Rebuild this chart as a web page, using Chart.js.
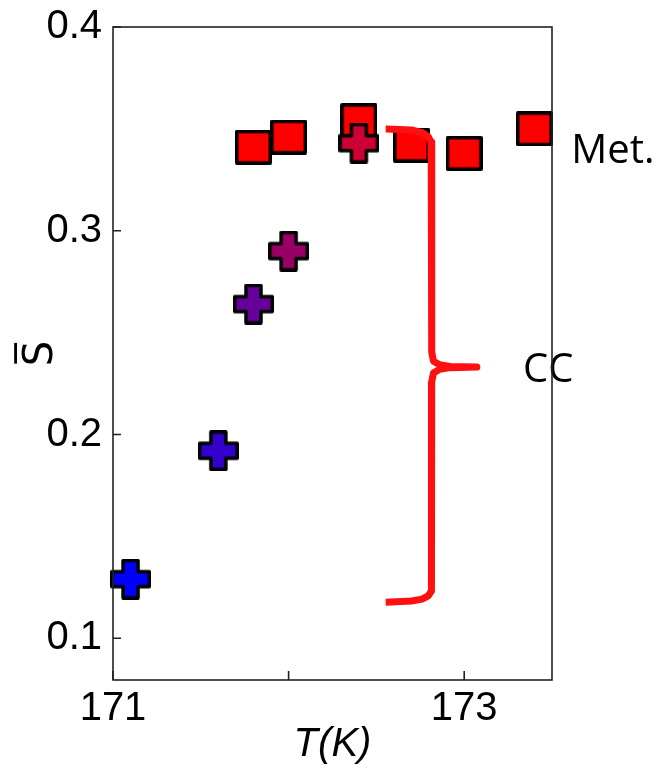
<!DOCTYPE html>
<html>
<head>
<meta charset="utf-8">
<script src="https://cdn.jsdelivr.net/npm/chart.js@4/dist/chart.umd.min.js"></script>
<style>
  html, body { margin: 0; padding: 0; background: #fff; }
  #wrap { width: 665px; height: 769px; }
</style>
</head>
<body>
<div id="wrap"><canvas id="myChart" width="665" height="769"></canvas></div>
<script>
// metallic phase (red squares)
var metT = [171.8, 172.0, 172.4, 172.7, 173.0, 173.4];
var metS = [0.341, 0.346, 0.354, 0.342, 0.338, 0.350];

// charge-crossover points (crosses, blue -> red)
var ccT = [171.1, 171.6, 171.8, 172.0, 172.4];
var ccS = [0.129, 0.192, 0.264, 0.290, 0.343];
var ccColors = ["#0000ff", "#3300cc", "#660099", "#990066", "#cc0033"];

// curly brace "CC"
var braceT = [172.553, 172.700, 172.760, 172.795, 172.812, 172.815, 172.815, 172.825, 172.860, 172.920, 173.072,
              172.920, 172.860, 172.825, 172.815, 172.815, 172.812, 172.795, 172.760, 172.700, 172.553];
var braceS = [0.3499, 0.3495, 0.3482, 0.3462, 0.3435, 0.3400, 0.2405, 0.2360, 0.2342, 0.2334, 0.2331,
              0.2328, 0.2320, 0.2302, 0.2257, 0.1265, 0.1232, 0.1208, 0.1192, 0.1183, 0.1177];

var xTicks = [171, 172, 173];
var xTickLabels = ["171", "", "173"];
var yTicks = [0.1, 0.2, 0.3, 0.4];
var yTickLabels = ["0.1", "0.2", "0.3", "0.4"];

function toXY(xs, ys) {
  var out = [];
  for (var i = 0; i < xs.length; i++) out.push({ x: xs[i], y: ys[i] });
  return out;
}

function makePlus(color) {
  var s = 41, a = 15, lw = 3.5;
  var c = document.createElement("canvas");
  c.width = s; c.height = s;
  var g = c.getContext("2d");
  var m = lw / 2, lo = (s - a) / 2, hi = (s + a) / 2;
  g.beginPath();
  g.moveTo(lo, m); g.lineTo(hi, m); g.lineTo(hi, lo); g.lineTo(s - m, lo);
  g.lineTo(s - m, hi); g.lineTo(hi, hi); g.lineTo(hi, s - m); g.lineTo(lo, s - m);
  g.lineTo(lo, hi); g.lineTo(m, hi); g.lineTo(m, lo); g.lineTo(lo, lo);
  g.closePath();
  g.fillStyle = color; g.fill();
  g.lineWidth = lw; g.lineJoin = "round"; g.strokeStyle = "#000"; g.stroke();
  return c;
}

function makeSquare(color) {
  var w = 37, h = 35, lw = 3.5;
  var c = document.createElement("canvas");
  c.width = w; c.height = h;
  var g = c.getContext("2d");
  g.fillStyle = color;
  g.fillRect(lw / 2, lw / 2, w - lw, h - lw);
  g.lineWidth = lw; g.lineJoin = "round"; g.strokeStyle = "#000";
  g.strokeRect(lw / 2, lw / 2, w - lw, h - lw);
  return c;
}

var squareImg = makeSquare("#ff0000");
var plusImgs = ccColors.map(makePlus);

// frame + inward ticks + text labels
var framePlugin = {
  id: "frame",
  beforeDatasetsDraw: function (chart) {
    var ctx = chart.ctx;
    var xs = chart.scales.x, ys = chart.scales.y;
    ctx.save();
    ctx.fillStyle = "#000";
    ctx.font = "40px 'Open Sans'";
    ctx.textAlign = "left";
    ctx.textBaseline = "alphabetic";
    ctx.fillText("Met.", xs.getPixelForValue(173.61), ys.getPixelForValue(0.3332));
    ctx.fillText("CC", xs.getPixelForValue(173.335), ys.getPixelForValue(0.2257));
    ctx.restore();
  },
  afterDatasetsDraw: function (chart) {
    var ctx = chart.ctx;
    var a = chart.chartArea;
    var xs = chart.scales.x, ys = chart.scales.y;
    ctx.save();
    ctx.strokeStyle = "#222";
    ctx.lineWidth = 1.6;
    ctx.strokeRect(a.left, a.top, a.right - a.left, a.bottom - a.top);
    ctx.beginPath();
    for (var i = 0; i < xTicks.length; i++) {
      var px = xs.getPixelForValue(xTicks[i]);
      ctx.moveTo(px, a.bottom);
      ctx.lineTo(px, a.bottom - 9);
    }
    for (var j = 0; j < yTicks.length; j++) {
      var py = ys.getPixelForValue(yTicks[j]);
      ctx.moveTo(a.left, py);
      ctx.lineTo(a.left + 8, py);
    }
    ctx.stroke();
    ctx.restore();
  }
};

var ctx = document.getElementById("myChart").getContext("2d");
var myChart = new Chart(ctx, {
  type: "scatter",
  data: {
    datasets: [
      {
        label: "brace",
        data: toXY(braceT, braceS),
        showLine: true,
        borderColor: "#ff1010",
        borderWidth: 7,
        tension: 0,
        borderJoinStyle: "round",
        pointRadius: 0,
        clip: false,
      },
      {
        label: "CC",
        data: toXY(ccT, ccS),
        pointStyle: plusImgs,
        clip: false,
      },
      {
        label: "Met.",
        data: toXY(metT, metS),
        pointStyle: squareImg,
        clip: false,
      },
    ],
  },
  options: {
    responsive: false,
    animation: false,
    events: [],
    layout: { padding: { left: 0, top: 27, right: 113, bottom: 0 } },
    plugins: { legend: { display: false }, tooltip: { enabled: false } },
    scales: {
      x: {
        type: "linear",
        min: 171,
        max: 173.5,
        afterBuildTicks: function (axis) {
          axis.ticks = xTicks.map(function (v) { return { value: v }; });
        },
        afterFit: function (axis) {
          axis.height = 89;
          axis.paddingLeft = 0;
          axis.paddingRight = 0;
        },
        ticks: {
          autoSkip: false,
          maxRotation: 0,
          padding: 9,
          color: "#000",
          font: { family: "'Liberation Sans', Arial, sans-serif", size: 40, lineHeight: 1 },
          callback: function (value) {
            var k = xTicks.indexOf(value);
            return k >= 0 ? xTickLabels[k] : "";
          },
        },
        grid: { display: false, drawTicks: false },
        border: { display: false },
        title: {
          display: true,
          text: "T(K)",
          color: "#000",
          padding: { top: 0, bottom: 4 },
          font: { family: "'Liberation Sans', Arial, sans-serif", size: 40, style: "italic", lineHeight: 1 },
        },
      },
      y: {
        type: "linear",
        min: 0.0795,
        max: 0.4,
        afterBuildTicks: function (axis) {
          axis.ticks = yTicks.map(function (v) { return { value: v }; });
        },
        afterFit: function (axis) {
          axis.width = 113;
          axis.paddingTop = 0;
          axis.paddingBottom = 0;
        },
        ticks: {
          autoSkip: false,
          padding: 11,
          color: "#000",
          font: { family: "'Liberation Sans', Arial, sans-serif", size: 40, lineHeight: 1 },
          callback: function (value) {
            for (var k = 0; k < yTicks.length; k++) {
              if (Math.abs(yTicks[k] - value) < 1e-9) return yTickLabels[k];
            }
            return "";
          },
        },
        grid: { display: false, drawTicks: false },
        border: { display: false },
        title: {
          display: true,
          text: "S\u0305",
          color: "#000",
          padding: { top: 22, bottom: 0 },
          font: { family: "'DejaVu Sans', sans-serif", size: 40, lineHeight: 1 },
        },
      },
    },
  },
  plugins: [framePlugin],
});
</script>
</body>
</html>
